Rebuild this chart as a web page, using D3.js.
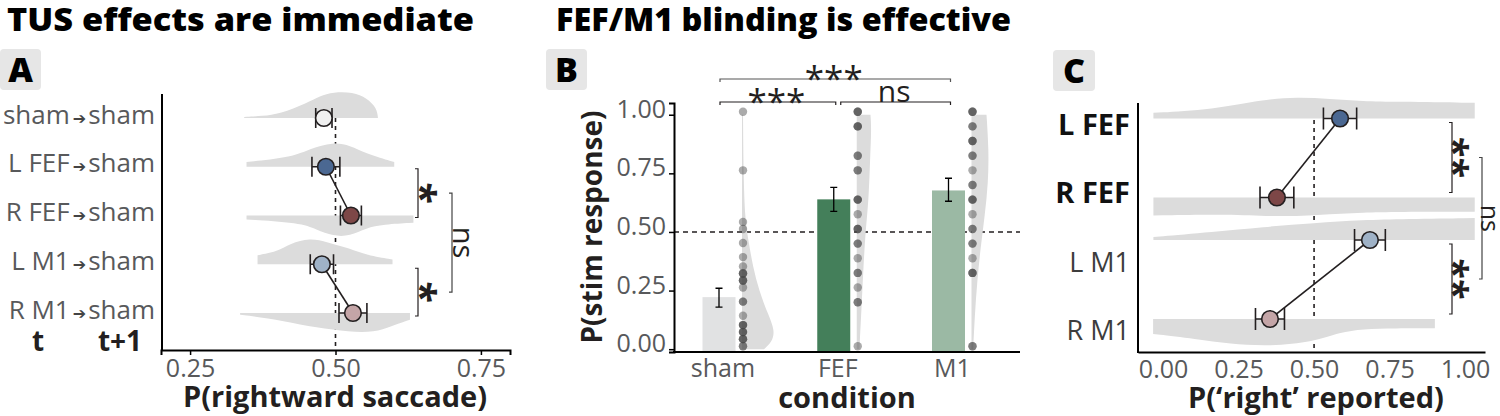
<!DOCTYPE html>
<html><head><meta charset="utf-8">
<script src="https://cdn.jsdelivr.net/npm/d3@7"></script>
<style>body{margin:0;background:#fff}svg{display:block}text{font-family:"Open Sans",sans-serif}</style>
</head><body><svg id="c" width="1500" height="416"></svg>
<script>
// ================= DATA =================
// Panel A : TUS effects are immediate
const rowsA = ["sham", "L FEF", "R FEF", "L M1", "R M1"];
const nextA = ["sham", "sham", "sham", "sham", "sham"];
const meanA = [0.480, 0.4835, 0.5265, 0.4766, 0.530];
const seA   = [0.014, 0.024, 0.018, 0.020, 0.024];
const ticksA = [0.25, 0.50, 0.75];
// half-violin outlines: [value, relative density]
const violA_sham = [[0.343,1],[0.375,2],[0.404,4],[0.451,15],[0.473,22],[0.496,26],[0.530,26],[0.554,20],[0.571,10],[0.573,0]];
const violA_LFEF = [[0.347,4.7],[0.427,9.7],[0.456,18],[0.496,24.7],[0.525,21.3],[0.553,13],[0.601,4.7]];
const violA_RFEF = [[0.347,4],[0.439,7.3],[0.467,14],[0.496,20.7],[0.525,20.7],[0.553,12.3],[0.582,9],[0.634,7.3]];
const violA_LM1  = [[0.366,9],[0.399,12.3],[0.422,20.7],[0.456,26.3],[0.485,22.3],[0.525,15.7],[0.553,9],[0.598,4.7]];
const violA_RM1  = [[0.336,1.7],[0.382,5],[0.439,11.7],[0.496,16.7],[0.548,20],[0.582,16.7],[0.611,10],[0.628,6.7]];

// Panel B : FEF/M1 blinding is effective
const condB = ["sham", "FEF", "M1"];
const meanB = [0.222, 0.639, 0.677];
const lowB  = [0.179, 0.588, 0.631];
const highB = [0.260, 0.690, 0.729];
const ticksB = [0, 0.25, 0.50, 0.75, 1.00];
const dotsB_sham = [1.0,0.75,0.53,0.5,0.44,0.38,0.34,0.31,0.28,0.25,0.19,0.13,0.09,0.06,0.03,0.0];
const countB_sham = [1,1,1,1,1,1,1,3,3,1,2,1,3,3,3,2];
const dotsB_FEF = [1,0.9375,0.8125,0.75,0.625,0.5625,0.5,0.4375,0.375,0.3125,0.25,0.1875,0];
const countB_FEF = [3,3,2,2,3,1,3,2,1,2,1,2,1];
const dotsB_M1 = [1,0.9375,0.875,0.8125,0.75,0.6875,0.625,0.5625,0.5,0.4375,0.375,0.3125,0];
const countB_M1 = [3,2,3,2,1,2,3,1,2,2,1,3,2];
const violB_sham = [[0,22],[0.03,30],[0.08,33],[0.15,26],[0.25,17],[0.35,11],[0.45,7],[0.55,3],[0.75,1.5],[1.0,1]];
const violB_FEF  = [[0,2.7],[0.22,5.3],[0.35,6.7],[0.5,8.7],[0.64,12],[0.81,13.3],[0.94,14.7],[1.0,13.7]];
const violB_M1   = [[0,1.7],[0.145,3.3],[0.29,5.7],[0.43,9],[0.57,13.3],[0.71,16.7],[0.85,17.3],[1.0,15]];

// Panel C
const rowsC = ["L FEF", "R FEF", "L M1", "R M1"];
const meanC = [0.586, 0.377, 0.685, 0.354];
const seC   = [0.055, 0.056, 0.051, 0.048];
const ticksC = [0, 0.25, 0.50, 0.75, 1.00];
const violC_LFEF = [[-0.032,5.7],[0.166,9],[0.331,19],[0.442,21.3],[0.552,19.7],[0.662,17.3],[0.773,16.7],[1.032,15.7]];
const violC_RFEF = [[-0.032,18],[0.166,16.7],[0.331,18.3],[0.442,19],[0.552,16.7],[0.662,15],[0.773,14.3],[1.032,14.3]];
const violC_LM1  = [[-0.032,3],[0.166,8],[0.331,13],[0.5,17],[0.662,20],[0.8,21],[1.032,22]];
const violC_RM1  = [[-0.033,15],[0.11,20],[0.22,25],[0.354,27.3],[0.5,23],[0.586,13.3],[0.66,10],[0.77,9.3],[0.9,9.3]];

// ================= STYLE =================
const INK = "#231f20", GREY = "#58595b", VIOL = "#dcdcdc";
const fillCond = {"sham":"#f0f0f0","L FEF":"#4b6892","R FEF":"#7d4747","L M1":"#9fb2c7","R M1":"#c4a5a7"};
const barFill = {"sham":"#e1e2e3","FEF":"#447f5a","M1":"#9bb9a4"};
const HEAVY = 'Lato, "Open Sans", sans-serif';

const svg = d3.select("#c");
svg.append("rect").attr("width",1500).attr("height",416).attr("fill","#fff");

function txt(g, x, y, s, size, opts = {}) {
  return g.append("text").attr("x", x).attr("y", y).text(s)
    .attr("font-size", size).attr("fill", opts.fill || INK)
    .attr("font-weight", opts.weight || 400)
    .attr("text-anchor", opts.anchor || "start");
}
function rotTxt(g, x, y, s, size, dyEm, opts = {}) {
  return g.append("text").attr("transform", `translate(${x},${y}) rotate(${opts.rot || 90})`)
    .attr("text-anchor", "middle").attr("dy", dyEm + "em").text(s)
    .attr("font-size", size).attr("fill", opts.fill || INK).attr("font-weight", opts.weight || 400);
}
function panelLetter(x, y, w, h, s) {
  svg.append("rect").attr("x", x).attr("y", y).attr("width", w).attr("height", h).attr("rx", 4).attr("fill", "#e6e6e6");
  txt(svg, x + w / 2, y + h / 2 + 12, s, 34, {weight: 900, anchor: "middle", fill: "#000"}).attr("font-family", HEAVY);
}
function vBracket(g, x, y1, y2, tick, color) {
  g.append("path").attr("d", `M${x - tick},${y1}H${x}V${y2}H${x - tick}`)
    .attr("fill", "none").attr("stroke", color || INK).attr("stroke-width", 1.2);
}
function hBracket(g, x1, x2, y, tick, color) {
  g.append("path").attr("d", `M${x1},${y + tick}V${y}H${x2}V${y + tick}`)
    .attr("fill", "none").attr("stroke", color || INK).attr("stroke-width", 1.2);
}
function styleAxis(g, size) {
  g.select(".domain").attr("stroke", "#000").attr("stroke-width", 2);
  g.selectAll(".tick line").attr("stroke", "#000").attr("stroke-width", 1.5);
  g.selectAll(".tick text").attr("font-size", size).attr("fill", GREY).attr("font-family", '"Open Sans",sans-serif');
}

// titles
txt(svg, 7, 31, "TUS effects are immediate", 31, {weight: 900, fill: "#000"})
  .attr("font-family", HEAVY).attr("textLength", 467).attr("lengthAdjust", "spacingAndGlyphs");
txt(svg, 556, 31, "FEF/M1 blinding is effective", 31, {weight: 900, fill: "#000"})
  .attr("font-family", HEAVY).attr("textLength", 455).attr("lengthAdjust", "spacingAndGlyphs");
panelLetter(0, 49, 41, 41, "A");
panelLetter(546, 49, 41, 41, "B");
panelLetter(1053, 50, 42, 41, "C");

// ================= PANEL A =================
{
  const g = svg.append("g");
  const x = d3.scaleLinear().domain([0.2, 0.8]).range([161, 510]);
  const y = d3.scalePoint().domain(rowsA).range([118, 313]);
  const h = d3.scaleLinear().domain([0, 26]).range([0, 26]);
  const viols = [violA_sham, violA_LFEF, violA_RFEF, violA_LM1, violA_RM1];

  g.append("line").attr("x1", x(0.5)).attr("x2", x(0.5)).attr("y1", 118).attr("y2", 350)
    .attr("stroke", INK).attr("stroke-width", 1.6).attr("stroke-dasharray", "4,4");

  rowsA.forEach((r, i) => {
    const base = y(r), dir = r.startsWith("R") ? 1 : -1;
    const area = d3.area().curve(d3.curveBasis).x(d => x(d[0])).y0(base).y1(d => base + dir * h(d[1]));
    g.append("path").attr("d", area(viols[i])).attr("fill", VIOL);
  });
  [[1, 2], [3, 4]].forEach(([a, b]) => {
    g.append("line").attr("x1", x(meanA[a])).attr("y1", y(rowsA[a])).attr("x2", x(meanA[b])).attr("y2", y(rowsA[b]))
      .attr("stroke", INK).attr("stroke-width", 1.6);
  });
  rowsA.forEach((r, i) => {
    const cy = y(r), x1 = x(meanA[i] - seA[i]), x2 = x(meanA[i] + seA[i]);
    g.append("path").attr("d", `M${x1},${cy - 10}V${cy + 10}M${x1},${cy}H${x2}M${x2},${cy - 10}V${cy + 10}`)
      .attr("stroke", INK).attr("stroke-width", 1.6).attr("fill", "none");
    g.append("circle").attr("cx", x(meanA[i])).attr("cy", cy).attr("r", 8.3)
      .attr("fill", fillCond[r]).attr("stroke", INK).attr("stroke-width", 1.6);
    const t = g.append("text").attr("x", 155).attr("y", cy + 5.5).attr("text-anchor", "end")
      .attr("font-size", 26).attr("fill", GREY);
    t.append("tspan").text(r);
    t.append("tspan").text("➔").attr("font-family", "DejaVu Sans").attr("font-size", 16).attr("fill", "#444").attr("dx", 3);
    t.append("tspan").text(nextA[i]).attr("dx", 2);
  });
  txt(g, 38, 351, "t", 28, {weight: 700, anchor: "middle"});
  txt(g, 120, 351, "t+1", 28, {weight: 700, anchor: "middle"});

  g.append("line").attr("x1", 162).attr("x2", 162).attr("y1", 94).attr("y2", 351).attr("stroke", "#000").attr("stroke-width", 2);
  const ax = g.append("g").attr("transform", "translate(0,350)")
    .call(d3.axisBottom(x).tickValues(ticksA).tickFormat(d3.format(".2f")).tickSizeOuter(0).tickSize(5).tickPadding(6));
  styleAxis(ax, 25);
  ax.selectAll(".tick text").attr("dy", null).attr("y", 27);
  txt(g, 335, 407, "P(rightward saccade)", 29, {weight: 700, anchor: "middle"});

  const b1a = y("L FEF") + 2, b1b = y("R FEF") + 2, b2a = y("L M1") + 4, b2b = y("R M1") + 3;
  vBracket(g, 418, b1a, b1b, 3);
  vBracket(g, 418, b2a, b2b, 3);
  rotTxt(g, 431, (b1a + b1b) / 2, "*", 40, 0.6, {weight: 700});
  rotTxt(g, 431, (b2a + b2b) / 2, "*", 40, 0.6, {weight: 700});
  vBracket(g, 452, (b1a + b1b) / 2, (b2a + b2b) / 2, 3, "#444");
  rotTxt(g, 461, ((b1a + b1b) / 2 + (b2a + b2b) / 2) / 2, "ns", 29, 0.27);
}

// ================= PANEL B =================
{
  const g = svg.append("g");
  const x = d3.scalePoint().domain(condB).range([723, 952.5]);
  const y = d3.scaleLinear().domain([-0.012, 1.05]).range([352, 103]);
  const w = d3.scaleLinear().domain([0, 33]).range([0, 33]);
  const barOff = -4, dotOff = 20, bw = 33;
  const dots = [dotsB_sham, dotsB_FEF, dotsB_M1], counts = [countB_sham, countB_FEF, countB_M1];
  const viols = [violB_sham, violB_FEF, violB_M1];

  g.append("line").attr("x1", 674).attr("x2", 1020).attr("y1", y(0.5)).attr("y2", y(0.5))
    .attr("stroke", INK).attr("stroke-width", 1.6).attr("stroke-dasharray", "5,4");

  condB.forEach((c, i) => {
    const cx = x(c) + barOff;
    g.append("rect").attr("x", cx - bw / 2).attr("width", bw).attr("y", y(meanB[i])).attr("height", y(0) - y(meanB[i]) + 2)
      .attr("fill", barFill[c]);
    g.append("path").attr("d", `M${cx - 3.5},${y(highB[i])}H${cx + 3.5}M${cx},${y(highB[i])}V${y(lowB[i])}M${cx - 3.5},${y(lowB[i])}H${cx + 3.5}`)
      .attr("stroke", "#000").attr("stroke-width", 1.3).attr("fill", "none");
    const dx = x(c) + dotOff;
    const area = d3.area().curve(d3.curveBasis).y(d => y(d[0])).x0(dx - 1).x1(d => dx - 1 + w(d[1]));
    g.append("path").attr("d", area(viols[i])).attr("fill", VIOL);
    dots[i].forEach((v, k) => {
      for (let n = 0; n < counts[i][k]; n++)
        g.append("circle").attr("cx", dx).attr("cy", y(v) - 3).attr("r", 4.2).attr("fill", "#444").attr("fill-opacity", 0.45);
    });
    txt(g, x(c), 377, c, 25, {anchor: "middle", fill: GREY});
  });

  const ay = g.append("g").attr("transform", "translate(674,0)")
    .call(d3.axisLeft(y).tickValues(ticksB).tickFormat(d3.format(".2f")).tickSizeOuter(0).tickSize(5).tickPadding(3));
  styleAxis(ay, 25);
  ay.selectAll(".tick text").attr("dy", "0.1em");
  g.append("line").attr("x1", 673).attr("x2", 1020).attr("y1", 352).attr("y2", 352).attr("stroke", "#000").attr("stroke-width", 2.2);
  txt(g, 847, 408, "condition", 29, {weight: 700, anchor: "middle"});
  rotTxt(g, 592, 227, "P(stim response)", 28, 0.35, {rot: -90, weight: 700});

  const bx = c => x(c) + barOff;
  hBracket(g, bx("sham") + 1, bx("M1") + 2, 79, 3, "#555");
  txt(g, (bx("sham") + bx("M1")) / 2, 70, "***", 35, {anchor: "middle"}).attr("dy", "0.6em");
  hBracket(g, bx("sham") + 1, bx("FEF") + 2, 102, 3);
  txt(g, (bx("sham") + bx("FEF")) / 2, 93, "***", 35, {anchor: "middle"}).attr("dy", "0.6em");
  hBracket(g, bx("FEF") + 7, bx("M1") + 2, 102, 3);
  txt(g, (bx("FEF") + bx("M1")) / 2 + 3, 94, "ns", 30, {anchor: "middle"}).attr("dy", "0.27em");
}

// ================= PANEL C =================
{
  const g = svg.append("g");
  const x = d3.scaleLinear().domain([-0.083, 1.066]).range([1138, 1485]);
  const yPair = d3.scalePoint().domain(["FEF", "M1"]).range([158, 279.5]);
  const side = 39.5;
  const my = r => yPair(r.split(" ")[1]) + (r.startsWith("L") ? -side : side);
  const yLab = d3.scalePoint().domain(rowsC).range([135, 340]);
  const h = d3.scaleLinear().domain([0, 27]).range([0, 27]);
  const viols = [violC_LFEF, violC_RFEF, violC_LM1, violC_RM1];

  g.append("line").attr("x1", x(0.5)).attr("x2", x(0.5)).attr("y1", 120).attr("y2", 352)
    .attr("stroke", INK).attr("stroke-width", 1.6).attr("stroke-dasharray", "4,4");
  rowsC.forEach((r, i) => {
    const base = my(r), dir = r.startsWith("R") ? 1 : -1;
    const area = d3.area().curve(d3.curveBasis).x(d => x(d[0])).y0(base).y1(d => base + dir * h(d[1]));
    g.append("path").attr("d", area(viols[i])).attr("fill", VIOL);
  });
  [[0, 1], [2, 3]].forEach(([a, b]) => {
    g.append("line").attr("x1", x(meanC[a])).attr("y1", my(rowsC[a])).attr("x2", x(meanC[b])).attr("y2", my(rowsC[b]))
      .attr("stroke", INK).attr("stroke-width", 1.6);
  });
  rowsC.forEach((r, i) => {
    const cy = my(r), x1 = x(meanC[i] - seC[i]), x2 = x(meanC[i] + seC[i]);
    g.append("path").attr("d", `M${x1},${cy - 11}V${cy + 11}M${x1},${cy}H${x2}M${x2},${cy - 11}V${cy + 11}`)
      .attr("stroke", INK).attr("stroke-width", 1.6).attr("fill", "none");
    g.append("circle").attr("cx", x(meanC[i])).attr("cy", cy).attr("r", 8.3)
      .attr("fill", fillCond[r]).attr("stroke", INK).attr("stroke-width", 1.6);
    const bold = r.includes("FEF");
    txt(g, 1130, yLab(r), r, bold ? 29 : 27, {anchor: "end", weight: bold ? 700 : 400, fill: bold ? "#111" : "#3d3d3d"});
  });

  g.append("line").attr("x1", 1138).attr("x2", 1138).attr("y1", 103).attr("y2", 353).attr("stroke", "#000").attr("stroke-width", 2);
  const ax = g.append("g").attr("transform", "translate(0,352)")
    .call(d3.axisBottom(x).tickValues(ticksC).tickFormat(d3.format(".2f")).tickSizeOuter(0).tickSize(0).tickPadding(6));
  styleAxis(ax, 25);
  ax.selectAll(".tick text").attr("dy", null).attr("y", 26);
  txt(g, 1316, 408, "P(‘right’ reported)", 29, {weight: 700, anchor: "middle"});

  const b1a = my("L FEF") + 4, b1b = my("R FEF") - 5, b2a = my("L M1") + 4, b2b = my("R M1") - 5;
  vBracket(g, 1452, b1a, b1b, 3);
  vBracket(g, 1452, b2a, b2b, 3);
  rotTxt(g, 1463, (b1a + b1b) / 2, "**", 38, 0.6, {weight: 700});
  rotTxt(g, 1463, (b2a + b2b) / 2, "**", 38, 0.6, {weight: 700});
  vBracket(g, 1482, (b1a + b1b) / 2, (b2a + b2b) / 2, 3, "#444");
  rotTxt(g, 1488, ((b1a + b1b) / 2 + (b2a + b2b) / 2) / 2, "ns", 25, 0.27);
}
</script></body></html>
